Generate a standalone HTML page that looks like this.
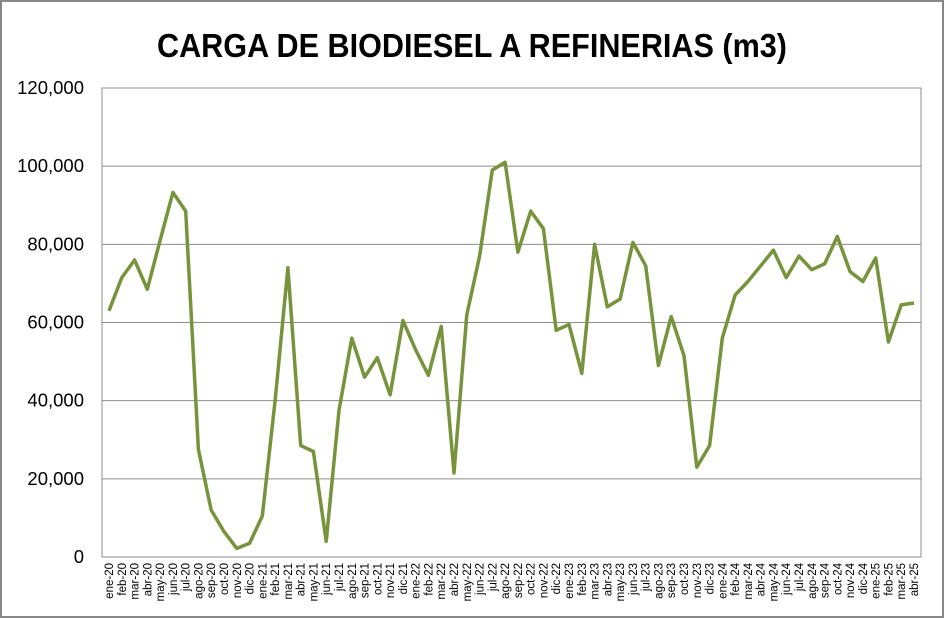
<!DOCTYPE html>
<html><head><meta charset="utf-8"><style>
html,body{margin:0;padding:0;background:#fff}
#c{position:relative;width:940px;height:614px;border:2px solid #878787;overflow:hidden}
svg{position:absolute;left:-2px;top:-2px}
</style></head><body><div id="c">
<svg id="s" width="944" height="618" xmlns="http://www.w3.org/2000/svg" font-family="Liberation Sans, sans-serif"></svg>
</div>
<script>
const s=document.getElementById('s');
const v=[63000,71500,76000,68500,81000,93300,88500,27500,12000,6500,2200,3500,
10500,40000,74000,28500,27000,4000,37500,56000,46000,51000,41500,60500,
53000,46500,59000,21500,62000,77000,99000,101000,78000,88500,84000,58000,
59500,47000,80000,64000,66000,80500,74500,49000,61500,51500,23000,28500,
56000,67000,70500,74500,78500,71500,77000,73500,75000,82000,73000,70500,
76500,55000,64500,65000];
const mn=['ene','feb','mar','abr','may','jun','jul','ago','sep','oct','nov','dic'];
const L=102,R=921,T=88,B=557;
const Y=x=>B-x/120000*(B-T);
const X=i=>109+i*(914-109)/63;
let h='';
h+=`<text x="472" y="57" text-anchor="middle" font-size="33" font-weight="bold" textLength="630" lengthAdjust="spacingAndGlyphs">CARGA DE BIODIESEL A REFINERIAS (m3)</text>`;
for(let k=0;k<=6;k++){const y=Y(k*20000);
 if(k>0)h+=`<line x1="${L}" x2="${R}" y1="${y}" y2="${y}" stroke="#8c8c8c" stroke-width="1"/>`;
 h+=`<text x="84" y="${y+6}" text-anchor="end" font-size="18.5">${k==0?'0':(k*20)+',000'}</text>`;}
h+=`<rect x="${L}" y="${T}" width="${R-L}" height="${B-T}" fill="none" stroke="#8c8c8c" stroke-width="1"/>`;
h+=`<polyline fill="none" stroke="#77933C" stroke-width="3.5" stroke-linejoin="round" points="${v.map((a,i)=>X(i).toFixed(1)+','+Y(a).toFixed(1)).join(' ')}"/>`;
for(let i=0;i<64;i++){const lab=mn[i%12]+'-'+(20+Math.floor(i/12));
 h+=`<text transform="translate(${X(i)+4},563) rotate(-90)" text-anchor="end" font-size="11.5">${lab}</text>`;}
s.innerHTML=h;
</script>
</body></html>
